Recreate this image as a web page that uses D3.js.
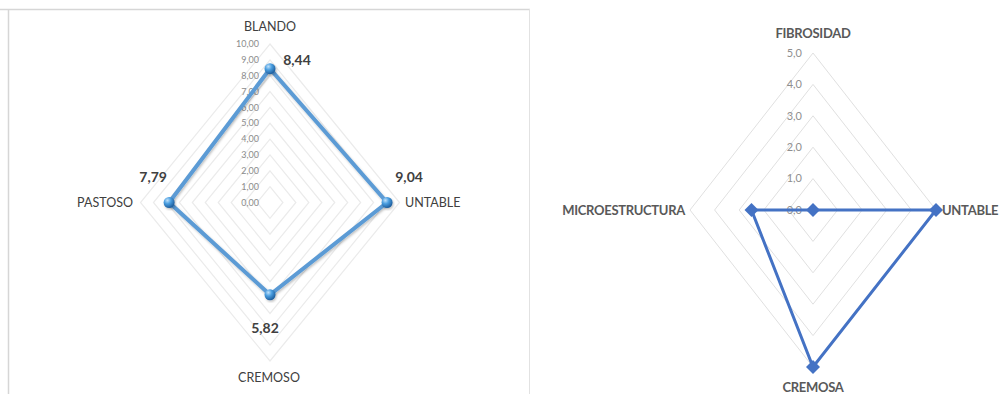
<!DOCTYPE html>
<html>
<head>
<meta charset="utf-8">
<script src="https://cdn.jsdelivr.net/npm/d3@7"></script>
<style>
  body { margin: 0; background: #fff; }
  svg { display: block; font-family: Lato, "Open Sans", sans-serif; }
</style>
</head>
<body>
<script>
// left chart data
var leftAxes = ["BLANDO", "UNTABLE", "CREMOSO", "PASTOSO"];
var leftValues = [8.44, 9.04, 5.82, 7.79];
var leftTicks = [0, 1, 2, 3, 4, 5, 6, 7, 8, 9, 10];

// right chart data
var rightAxes = ["FIBROSIDAD", "UNTABLE", "CREMOSA", "MICROESTRUCTURA"];
var rightValues = [0, 5, 5, 2.5];
var rightTicks = [0, 1, 2, 3, 4, 5];

var W = 999, H = 394;

var svg = d3.select("body").append("svg")
    .attr("width", W)
    .attr("height", H);

var defs = svg.append("defs");
var grad = defs.append("radialGradient").attr("id", "ball")
    .attr("cx", "35%").attr("cy", "30%").attr("r", "70%");
grad.append("stop").attr("offset", "0%").attr("stop-color", "#bfe0fa");
grad.append("stop").attr("offset", "45%").attr("stop-color", "#4a9ee0");
grad.append("stop").attr("offset", "100%").attr("stop-color", "#1f5f9e");

var shadow = defs.append("filter").attr("id", "shadow")
    .attr("x", "-10%").attr("y", "-10%").attr("width", "130%").attr("height", "130%");
shadow.append("feDropShadow").attr("dx", 1).attr("dy", 1.5).attr("stdDeviation", 1.2)
    .attr("flood-color", "#000").attr("flood-opacity", 0.25);

// panel frame lines
svg.append("line").attr("x1", 0).attr("x2", 530).attr("y1", 9.5).attr("y2", 9.5)
    .attr("stroke", "#d6d6d6").attr("stroke-width", 1.5);
svg.append("line").attr("x1", 8.5).attr("x2", 8.5).attr("y1", 9).attr("y2", H)
    .attr("stroke", "#d6d6d6").attr("stroke-width", 1.5);
svg.append("line").attr("x1", 529.5).attr("x2", 529.5).attr("y1", 9).attr("y2", H)
    .attr("stroke", "#e2e2e2").attr("stroke-width", 1);

// helper: point on a 4-axis radar with separate x / y radius scales
function pt(i, v, cx, cy, sx, sy) {
    var a = i * Math.PI / 2;
    return [cx + sx(v) * Math.sin(a), cy - sy(v) * Math.cos(a)];
}

// ---------- LEFT RADAR ----------
var lcx = 270, lcy = 202.5;
var lsx = d3.scaleLinear().domain([0, 10]).range([0, 129.5]);
var lsy = d3.scaleLinear().domain([0, 10]).range([0, 158.5]);
var left = svg.append("g");

left.selectAll("path.ring")
    .data(leftTicks.slice(1))
    .enter().append("path")
    .attr("class", "ring")
    .attr("d", function(t) {
        return d3.line()(leftAxes.map(function(_, i) { return pt(i, t, lcx, lcy, lsx, lsy); })) + "Z";
    })
    .attr("fill", "none")
    .attr("stroke", "#ebebeb")
    .attr("stroke-width", 1.2);

left.selectAll("text.tick")
    .data(leftTicks)
    .enter().append("text")
    .attr("class", "tick")
    .attr("x", lcx - 11)
    .attr("y", function(t) { return lcy - lsy(t); })
    .attr("dy", "0.35em")
    .attr("text-anchor", "end")
    .attr("font-size", 9)
    .attr("fill", "#8c8c8c")
    .text(function(t) { return d3.format(".2f")(t).replace(".", ","); });

var lpts = leftValues.map(function(v, i) { return pt(i, v, lcx, lcy, lsx, lsy); });

left.append("path")
    .attr("d", d3.line()(lpts) + "Z")
    .attr("fill", "none")
    .attr("stroke", "#5b9bd5")
    .attr("stroke-width", 4)
    .attr("stroke-linejoin", "round")
    .attr("filter", "url(#shadow)");

left.selectAll("circle.dot")
    .data(lpts)
    .enter().append("circle")
    .attr("class", "dot")
    .attr("cx", function(d) { return d[0]; })
    .attr("cy", function(d) { return d[1]; })
    .attr("r", 5.5)
    .attr("fill", "url(#ball)")
    .attr("filter", "url(#shadow)");

// data labels
var lLabOff = [[27, -9], [22, -25], [-5, 33], [-16, -25]];
left.selectAll("text.val")
    .data(leftValues)
    .enter().append("text")
    .attr("class", "val")
    .attr("x", function(d, i) { return lpts[i][0] + lLabOff[i][0]; })
    .attr("y", function(d, i) { return lpts[i][1] + lLabOff[i][1]; })
    .attr("dy", "0.35em")
    .attr("text-anchor", "middle")
    .attr("font-size", 14)
    .attr("font-weight", "bold")
    .attr("fill", "#404040")
    .text(function(d) { return d3.format(".2f")(d).replace(".", ","); });

// category labels
var lCat = [
    {x: 270, y: 27, a: "middle"},
    {x: 405, y: 203, a: "start"},
    {x: 269, y: 378, a: "middle"},
    {x: 133, y: 203, a: "end"}
];
left.selectAll("text.cat")
    .data(leftAxes)
    .enter().append("text")
    .attr("class", "cat")
    .attr("x", function(d, i) { return lCat[i].x; })
    .attr("y", function(d, i) { return lCat[i].y; })
    .attr("dy", "0.35em")
    .attr("text-anchor", function(d, i) { return lCat[i].a; })
    .attr("font-size", 12.5)
    .attr("fill", "#404040")
    .text(function(d) { return d; });

// ---------- RIGHT RADAR ----------
var rcx = 813, rcy = 210;
var rsx = d3.scaleLinear().domain([0, 5]).range([0, 123]);
var rsy = d3.scaleLinear().domain([0, 5]).range([0, 157]);
var right = svg.append("g");

right.selectAll("path.ring")
    .data(rightTicks.slice(1))
    .enter().append("path")
    .attr("class", "ring")
    .attr("d", function(t) {
        return d3.line()(rightAxes.map(function(_, i) { return pt(i, t, rcx, rcy, rsx, rsy); })) + "Z";
    })
    .attr("fill", "none")
    .attr("stroke", "#e0e0e0")
    .attr("stroke-width", 1);

right.selectAll("text.tick")
    .data(rightTicks)
    .enter().append("text")
    .attr("class", "tick")
    .attr("x", rcx - 11)
    .attr("y", function(t) { return rcy - rsy(t); })
    .attr("dy", "0.35em")
    .attr("text-anchor", "end")
    .attr("font-size", 11)
    .attr("fill", "#8f8f8f")
    .text(function(t) { return d3.format(".1f")(t).replace(".", ","); });

var rpts = rightValues.map(function(v, i) { return pt(i, v, rcx, rcy, rsx, rsy); });

right.append("path")
    .attr("d", d3.line()(rpts) + "Z")
    .attr("fill", "none")
    .attr("stroke", "#4472c4")
    .attr("stroke-width", 3)
    .attr("stroke-linejoin", "miter");

right.selectAll("path.dia")
    .data(rpts)
    .enter().append("path")
    .attr("class", "dia")
    .attr("d", function(d) {
        var s = 7;
        return "M" + d[0] + "," + (d[1] - s) + "L" + (d[0] + s) + "," + d[1] +
               "L" + d[0] + "," + (d[1] + s) + "L" + (d[0] - s) + "," + d[1] + "Z";
    })
    .attr("fill", "#4472c4");

var rCat = [
    {x: 813, y: 33, a: "middle"},
    {x: 942, y: 210, a: "start"},
    {x: 813, y: 387, a: "middle"},
    {x: 685, y: 210, a: "end"}
];
right.selectAll("text.cat")
    .data(rightAxes)
    .enter().append("text")
    .attr("class", "cat")
    .attr("x", function(d, i) { return rCat[i].x; })
    .attr("y", function(d, i) { return rCat[i].y; })
    .attr("dy", "0.35em")
    .attr("text-anchor", function(d, i) { return rCat[i].a; })
    .attr("font-size", 13)
    .attr("font-weight", "bold")
    .attr("letter-spacing", -0.3)
    .attr("fill", "#595959")
    .text(function(d) { return d; });
</script>
</body>
</html>
